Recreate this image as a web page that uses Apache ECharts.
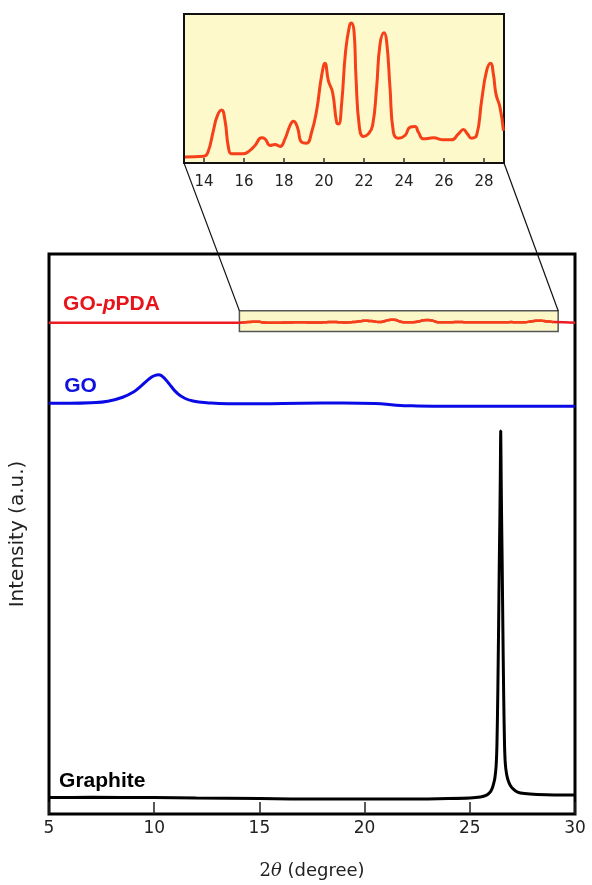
<!DOCTYPE html>
<html>
<head>
<meta charset="utf-8">
<script src="https://cdn.jsdelivr.net/npm/echarts@6/dist/echarts.min.js"></script>
<style>
  html, body { margin: 0; padding: 0; background: #ffffff; }
  #chart { width: 592px; height: 885px; }
</style>
</head>
<body>
<div id="chart"></div>
<script>
// XRD patterns: graphite, graphene oxide (GO) and GO-pPDA, stacked with offsets (a.u.)
const mainTicks = [5, 10, 15, 20, 25, 30];
const insetTicks = [14, 16, 18, 20, 22, 24, 26, 28];

const graphite = [
  [5, 16.5], [7, 16.8], [10, 16.5], [12, 16], [15, 15.5], [18, 15], [20, 15], [22, 15],
  [24, 15.5], [25, 16], [25.5, 17], [25.8, 19], [25.95, 21.5], [26.05, 25], [26.12, 29.5],
  [26.19, 36], [26.25, 48], [26.29, 70], [26.33, 120], [26.37, 190], [26.4, 250],
  [26.43, 300], [26.45, 340], [26.47, 385], [26.49, 340], [26.51, 300], [26.54, 250],
  [26.57, 190], [26.61, 120], [26.65, 70], [26.69, 50], [26.75, 40], [26.82, 34],
  [26.92, 29], [27.07, 25], [27.27, 22], [27.6, 20.5], [28.2, 19.5], [29, 19], [30, 19]
];

const go = [
  [5, 413], [6, 413], [7, 413.5], [7.8, 415], [8.5, 419], [9, 424], [9.33, 429.5],
  [9.65, 435.5], [9.9, 439.5], [10.05, 441], [10.2, 441.5], [10.35, 440.5], [10.55, 436.5],
  [10.8, 430], [11.1, 423], [11.45, 418], [11.84, 415.3], [12.5, 413.5], [13.5, 412.5], [15, 412.5],
  [17, 413], [19, 413.2], [20.5, 412.7], [21.5, 411], [22.5, 410.3], [24, 410], [27, 410], [30, 410]
];

// GO-pPDA pattern in the 13–29° window (magnified view)
const pdaInset = [
  [13.05, 6], [14.0, 6.7], [14.2, 11], [14.47, 32.7], [14.67, 47.7], [14.88, 53.3],
  [15.05, 42.7], [15.22, 16], [15.38, 9.3], [15.97, 9.3], [16.3, 12.7], [16.55, 17.7],
  [16.88, 25.3], [17.05, 24.3], [17.3, 17.7], [17.55, 18.7], [17.8, 16.7], [18.05, 24.3],
  [18.3, 37.7], [18.47, 42], [18.67, 36], [18.88, 21], [19.13, 20], [19.38, 31],
  [19.63, 52.7], [19.88, 87.7], [20.05, 100.3], [20.22, 82.7], [20.43, 71], [20.63, 41],
  [20.73, 39.3], [20.88, 59.3], [21.08, 112.7], [21.27, 137.7], [21.37, 141], [21.5, 132.7],
  [21.6, 86], [21.77, 36], [21.97, 26.7], [22.22, 29.3], [22.43, 37.7], [22.63, 76],
  [22.8, 119.3], [23.0, 131], [23.13, 122.7], [23.3, 76], [23.47, 31], [23.72, 25],
  [24.05, 27.7], [24.3, 36], [24.55, 36.7], [24.72, 31], [24.97, 24.3], [25.47, 25.3],
  [25.97, 23.3], [26.38, 23.3], [26.72, 29.3], [26.97, 33.7], [27.17, 29.3], [27.38, 25],
  [27.63, 27.7], [27.88, 62.7], [28.13, 92.7], [28.33, 100.3], [28.47, 89.3], [28.6, 69.3],
  [28.8, 56], [28.97, 32.7]
];

// Stacking offset and scale of the GO-pPDA trace in the full-range panel
const pdaBase = 494;
const pdaRef = 9;
const pdaScale = 0.022;
const pdaEnds = [5, 30];

// Highlighted window in the main panel and the magnified range
const zoomBox = { x0: 14.05, x1: 29.2, y0: 485, y1: 506 };
const insetRange = [13, 29];

const labels = [
  { name: 'GO-pPDA', x: 5.67, y: 513, color: '#e8141c' },
  { name: 'GO', x: 5.72, y: 430, color: '#1010e0' },
  { name: 'Graphite', x: 5.48, y: 33, color: '#000000' }
];

const pdaMain = [[pdaEnds[0], pdaBase]]
  .concat(pdaInset.map(p => [p[0], pdaBase + pdaScale * (p[1] - pdaRef)]))
  .concat([[pdaEnds[1], pdaBase]]);
const pdaWindow = pdaMain.filter(p => p[0] >= zoomBox.x0 && p[0] <= zoomBox.x1);

const chart = echarts.init(document.getElementById('chart'), null, { renderer: 'canvas' });

const sansNum = 'DejaVu Sans';
const boldFace = '"Liberation Sans", Arial, sans-serif';

chart.setOption({
  animation: false,
  backgroundColor: '#ffffff',
  grid: [
    { left: 49, top: 254, width: 526, height: 563, show: true,
      borderColor: '#000', borderWidth: 3, backgroundColor: 'transparent', containLabel: false },
    { left: 184, top: 14, width: 320, height: 149, show: true,
      borderColor: '#111', borderWidth: 2, backgroundColor: '#fdf9cb', containLabel: false }
  ],
  xAxis: [
    { gridIndex: 0, type: 'value', min: 5, max: 30, interval: 5,
      axisLine: { show: false },
      axisTick: { show: true, inside: true, length: 12, lineStyle: { color: '#222', width: 1.5 } },
      axisLabel: { fontFamily: sansNum, fontSize: 17, color: '#222', margin: 6,
        customValues: mainTicks },
      splitLine: { show: false },
      name: '{s|2}{i|θ} (degree)', nameLocation: 'middle', nameGap: 48,
      nameTextStyle: { fontFamily: sansNum, fontSize: 18, color: '#222',
        rich: {
          s: { fontFamily: 'DejaVu Serif', fontSize: 18, color: '#222' },
          i: { fontFamily: 'DejaVu Serif', fontStyle: 'italic', fontSize: 18, color: '#222' }
        } } },
    { gridIndex: 1, type: 'value', min: insetRange[0], max: insetRange[1],
      axisLine: { show: false },
      axisTick: { show: true, inside: true, length: 5, customValues: insetTicks,
        lineStyle: { color: '#333', width: 1.5 } },
      axisLabel: { fontFamily: sansNum, fontSize: 15, color: '#222', margin: 12,
        customValues: insetTicks },
      splitLine: { show: false } }
  ],
  yAxis: [
    { gridIndex: 0, type: 'value', min: 0, max: 563,
      axisLine: { show: false }, axisTick: { show: false }, axisLabel: { show: false },
      splitLine: { show: false },
      name: 'Intensity (a.u.)', nameLocation: 'middle', nameGap: 21,
      nameTextStyle: { fontFamily: sansNum, fontSize: 20, color: '#222' } },
    { gridIndex: 1, type: 'value', min: 0, max: 150,
      axisLine: { show: false }, axisTick: { show: false }, axisLabel: { show: false },
      splitLine: { show: false } }
  ],
  series: [
    { name: 'Graphite', type: 'line', xAxisIndex: 0, yAxisIndex: 0, data: graphite,
      showSymbol: false, smooth: 0.25,
      lineStyle: { color: '#000', width: 3 }, z: 3 },
    { name: 'GO', type: 'line', xAxisIndex: 0, yAxisIndex: 0, data: go,
      showSymbol: false, smooth: 0.5,
      lineStyle: { color: '#0a0ae6', width: 3 }, z: 3 },
    { name: 'GO-pPDA', type: 'line', xAxisIndex: 0, yAxisIndex: 0, data: pdaMain,
      showSymbol: false, smooth: 0.5,
      lineStyle: { color: '#ec1c24', width: 2.5 }, z: 3 },
    { name: 'window', type: 'line', xAxisIndex: 0, yAxisIndex: 0, data: [], z: 4,
      markArea: { silent: true,
        itemStyle: { color: '#fbf7c6', borderColor: '#555', borderWidth: 1.5, opacity: 1 },
        data: [[{ coord: [zoomBox.x0, zoomBox.y1] }, { coord: [zoomBox.x1, zoomBox.y0] }]] } },
    { name: 'GO-pPDA window', type: 'line', xAxisIndex: 0, yAxisIndex: 0, data: pdaWindow,
      showSymbol: false, smooth: 0.5,
      lineStyle: { color: '#f5401a', width: 2.5 }, z: 6 },
    { name: 'GO-pPDA inset', type: 'line', xAxisIndex: 1, yAxisIndex: 1, data: pdaInset,
      showSymbol: false, smooth: 0.5,
      lineStyle: { color: '#f5401a', width: 3 }, z: 6 }
  ]
});

// Connector lines from the magnified panel to the highlighted window, plus curve labels
const m = { xAxisIndex: 0, yAxisIndex: 0 };
const ins = { xAxisIndex: 1, yAxisIndex: 1 };
const iL = chart.convertToPixel(ins, [insetRange[0], 0]);
const iR = chart.convertToPixel(ins, [insetRange[1], 0]);
const bL = chart.convertToPixel(m, [zoomBox.x0, zoomBox.y1]);
const bR = chart.convertToPixel(m, [zoomBox.x1, zoomBox.y1]);

const graphics = [
  { type: 'line', shape: { x1: iL[0], y1: iL[1], x2: bL[0], y2: bL[1] },
    style: { stroke: '#111', lineWidth: 1.2 }, z: 10, silent: true },
  { type: 'line', shape: { x1: iR[0], y1: iR[1], x2: bR[0], y2: bR[1] },
    style: { stroke: '#111', lineWidth: 1.2 }, z: 10, silent: true }
];

labels.forEach(l => {
  const p = chart.convertToPixel(m, [l.x, l.y]);
  const parts = l.name === 'GO-pPDA' ? '{n|GO-}{i|p}{n|PDA}' : '{n|' + l.name + '}';
  graphics.push({
    type: 'text', x: p[0], y: p[1], z: 10, silent: true,
    style: {
      text: parts, align: 'left', verticalAlign: 'middle',
      rich: {
        n: { fontFamily: boldFace, fontWeight: 'bold', fontSize: 21, fill: l.color },
        i: { fontFamily: boldFace, fontWeight: 'bold', fontStyle: 'italic', fontSize: 21, fill: l.color }
      }
    }
  });
});

chart.setOption({ graphic: graphics });
</script>
</body>
</html>
